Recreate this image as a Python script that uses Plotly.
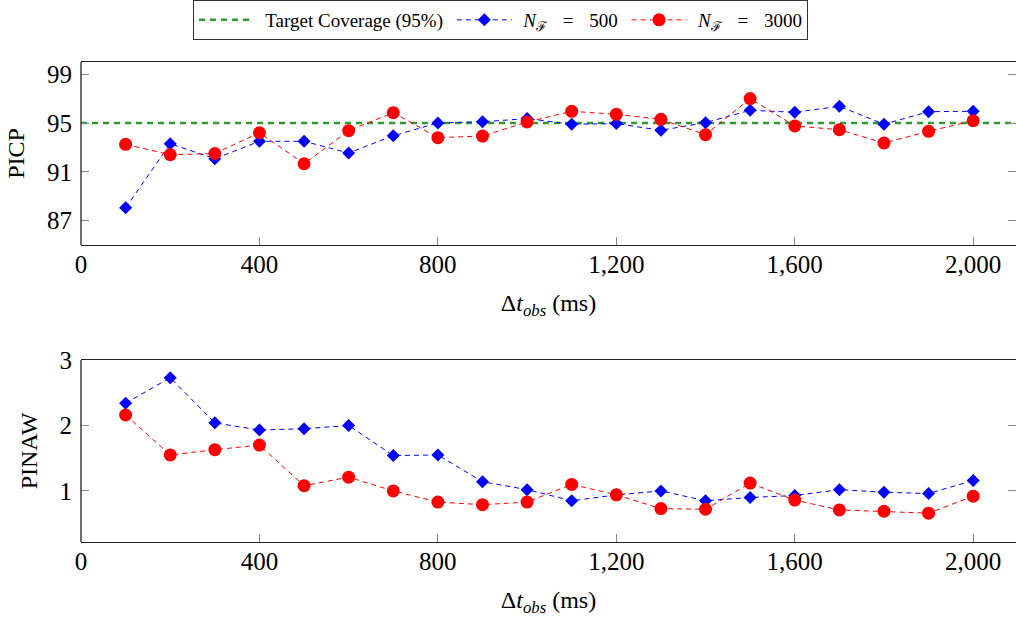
import plotly.graph_objects as go

dt_obs = [100, 200, 300, 400, 500, 600, 700, 800, 900, 1000,
          1100, 1200, 1300, 1400, 1500, 1600, 1700, 1800, 1900, 2000]

picp_500 = [88.05, 93.3, 92.07, 93.5, 93.5, 92.54, 93.96, 95.0, 95.1, 95.36,
            94.9, 94.95, 94.4, 95.03, 96.04, 95.88, 96.37, 94.9, 95.93, 95.96]
picp_3000 = [93.25, 92.4, 92.5, 94.2, 91.66, 94.37, 95.85, 93.8, 93.93, 95.08,
             95.96, 95.71, 95.3, 94.04, 97.0, 94.76, 94.45, 93.36, 94.32, 95.19]

pinaw_500 = [2.34, 2.73, 2.04, 1.93, 1.95, 2.0, 1.54, 1.55, 1.14, 1.02,
             0.85, 0.94, 1.0, 0.85, 0.90, 0.93, 1.02, 0.98, 0.96, 1.16]
pinaw_3000 = [2.16, 1.55, 1.63, 1.70, 1.08, 1.21, 1.0, 0.83, 0.79, 0.83,
              1.10, 0.94, 0.73, 0.72, 1.12, 0.86, 0.71, 0.69, 0.66, 0.92]

target_coverage = 95
target_x = [0, 2100]

x_ticks = [0, 400, 800, 1200, 1600, 2000]
picp_ticks = [87, 91, 95, 99]
pinaw_ticks = [1, 2, 3]

W, H = 1016, 623
FONT = "Liberation Serif, Times New Roman, DejaVu Serif, serif"
BLUE = "#0000ff"
RED = "#ff0000"
GREEN = "#2f9a2f"

SP = "\u2002\u2004"
name_target = "\u2004Target Coverage (95%)\u2009"
name_500 = "\u2004<i>N</i><sub>ℱ</sub>" + SP + "=" + SP + "500\u2009"
name_3000 = "\u2004<i>N</i><sub>ℱ</sub>" + SP + "=" + SP + "3000"

fig = go.Figure()

fig.add_trace(go.Scatter(x=target_x, y=[target_coverage] * 2, mode="lines",
                         line=dict(color=GREEN, width=2.5, dash="6px,5px"),
                         name=name_target, xaxis="x", yaxis="y"))
fig.add_trace(go.Scatter(x=dt_obs, y=picp_500, mode="lines+markers",
                         line=dict(color=BLUE, width=1, dash="5px,4px"),
                         marker=dict(symbol="diamond", size=10, color=BLUE),
                         name=name_500, xaxis="x", yaxis="y"))
fig.add_trace(go.Scatter(x=dt_obs, y=picp_3000, mode="lines+markers",
                         line=dict(color=RED, width=1, dash="5px,4px"),
                         marker=dict(symbol="circle", size=13, color=RED),
                         name=name_3000, xaxis="x", yaxis="y"))
fig.add_trace(go.Scatter(x=dt_obs, y=pinaw_500, mode="lines+markers",
                         line=dict(color=BLUE, width=1, dash="5px,4px"),
                         marker=dict(symbol="diamond", size=10, color=BLUE),
                         showlegend=False, xaxis="x2", yaxis="y2"))
fig.add_trace(go.Scatter(x=dt_obs, y=pinaw_3000, mode="lines+markers",
                         line=dict(color=RED, width=1, dash="5px,4px"),
                         marker=dict(symbol="circle", size=13, color=RED),
                         showlegend=False, xaxis="x2", yaxis="y2"))

x_left = 81 / W
xtitle = "Δ<i>t</i><sub><i>obs</i></sub> (ms)"
TICK_SIZE = 25
TITLE_SIZE = 24

def xaxis_cfg(anchor):
    return dict(domain=[x_left, 1.0], range=[0, 2096], anchor=anchor,
                tickvals=x_ticks, tickformat=",", ticks="inside", ticklen=8,
                tickcolor="#888888", tickwidth=1, showline=True, mirror=True,
                linecolor="#222222", linewidth=1.3, showgrid=False, zeroline=False,
                automargin=False,
                tickfont=dict(family=FONT, size=TICK_SIZE, color="black"),
                title=dict(text=xtitle, font=dict(family=FONT, size=TITLE_SIZE, color="black"),
                           standoff=17),
                ticklabelstandoff=-3)

def yaxis_cfg(anchor, dom, rng, vals, title):
    return dict(domain=dom, range=rng, anchor=anchor, tickvals=vals,
                ticks="inside", ticklen=8, tickcolor="#888888", tickwidth=1,
                showline=False, mirror="ticks", showgrid=False, zeroline=False,
                automargin=False,
                tickfont=dict(family=FONT, size=TICK_SIZE, color="black"),
                title=dict(text=title, font=dict(family=FONT, size=TITLE_SIZE, color="black"),
                           standoff=15),
                ticklabelstandoff=8)

top_dom = [(H - 245) / H, (H - 62) / H]
bot_dom = [(H - 542) / H, (H - 360) / H]

fig.update_layout(
    width=W, height=H,
    margin=dict(l=0, r=0, t=0, b=0, autoexpand=False),
    paper_bgcolor="white", plot_bgcolor="white",
    font=dict(family=FONT, color="black"),
    xaxis=xaxis_cfg("y"),
    yaxis=yaxis_cfg("x", top_dom, [85, 100], picp_ticks, "PICP"),
    xaxis2=xaxis_cfg("y2"),
    yaxis2=yaxis_cfg("x2", bot_dom, [0.22, 3], pinaw_ticks, "PINAW"),
    legend=dict(orientation="h", x=193 / W, y=1.0, xanchor="left", yanchor="top",
                bordercolor="#333333", borderwidth=1, bgcolor="white",
                font=dict(family=FONT, size=19, color="black"),
                tracegroupgap=0, itemwidth=55),
    shapes=[
        dict(type="line", xref="x domain", yref="y domain", x0=0, x1=0, y0=0, y1=1,
             line=dict(color="#222222", width=1.3)),
        dict(type="line", xref="x2 domain", yref="y2 domain", x0=0, x1=0, y0=0, y1=1,
             line=dict(color="#222222", width=1.3)),
    ],
)

fig.write_html("out.html", config={"displayModeBar": False},
               post_script="document.body.style.margin='0';")
